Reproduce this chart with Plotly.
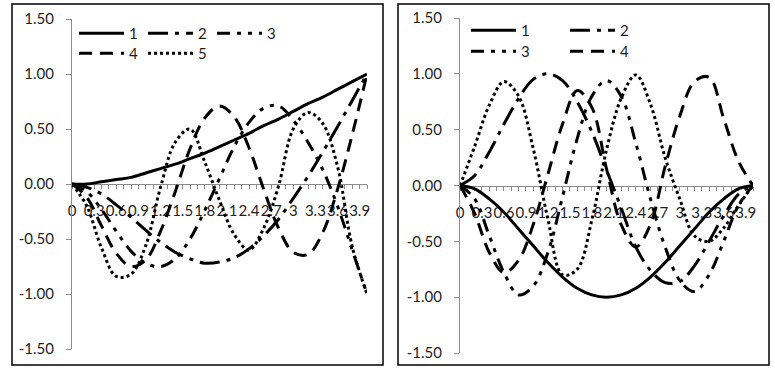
import plotly.graph_objects as go

# x positions (beam length 0..4), tick labels every 0.3
X = [0, 0.2, 0.4, 0.6, 0.8, 1.0, 1.2, 1.4, 1.6, 1.8, 2.0,
     2.2, 2.4, 2.6, 2.8, 3.0, 3.2, 3.4, 3.6, 3.8, 4.0]
X_TICKS = [0, 0.3, 0.6, 0.9, 1.2, 1.5, 1.8, 2.1, 2.4, 2.7, 3.0, 3.3, 3.6, 3.9]
X_TICK_LABELS = ["0", "0.3", "0.6", "0.9", "1.2", "1.5", "1.8", "2.1", "2.4",
                 "2.7", "3", "3.3", "3.6", "3.9"]
Y_TICKS = [-1.5, -1.0, -0.5, 0.0, 0.5, 1.0, 1.5]
Y_TICK_LABELS = ["-1.50", "-1.00", "-0.50", "0.00", "0.50", "1.00", "1.50"]

# left panel
left_1 = [0, 0.00, 0.02, 0.04, 0.06, 0.10, 0.14, 0.18, 0.23, 0.28, 0.34,
          0.40, 0.46, 0.53, 0.59, 0.66, 0.73, 0.79, 0.86, 0.93, 1.00]
left_2 = [0, -0.03, -0.09, -0.19, -0.30, -0.42, -0.53, -0.62, -0.68, -0.72, -0.71,
          -0.67, -0.59, -0.47, -0.32, -0.13, 0.07, 0.29, 0.52, 0.76, 1.00]
left_3 = [0, -0.07, -0.23, -0.43, -0.61, -0.72, -0.75, -0.68, -0.50, -0.24, 0.05,
          0.34, 0.56, 0.69, 0.71, 0.58, 0.38, 0.13, -0.20, -0.60, -1.00]
left_4 = [0, -0.12, -0.38, -0.63, -0.75, -0.69, -0.43, -0.07, 0.32, 0.60, 0.71,
          0.61, 0.33, -0.05, -0.40, -0.62, -0.64, -0.44, -0.05, 0.45, 1.00]
left_5 = [0, -0.20, -0.58, -0.84, -0.82, -0.56, -0.03, 0.38, 0.50, 0.20, -0.15,
          -0.46, -0.60, -0.40, -0.02, 0.50, 0.65, 0.55, 0.16, -0.57, -1.00]

# right panel
right_1 = [0, -0.03, -0.12, -0.24, -0.39, -0.54, -0.69, -0.82, -0.92, -0.98, -1.00,
           -0.98, -0.92, -0.82, -0.69, -0.54, -0.39, -0.24, -0.12, -0.03, 0]
right_2 = [0, 0.09, 0.30, 0.55, 0.78, 0.95, 1.00, 0.94, 0.75, 0.48, 0.14,
           -0.20, -0.55, -0.76, -0.87, -0.86, -0.72, -0.50, -0.27, -0.08, 0]
right_3 = [0, -0.12, -0.45, -0.78, -0.98, -0.90, -0.60, -0.10, 0.42, 0.80, 0.94,
           0.80, 0.38, -0.12, -0.55, -0.85, -0.95, -0.80, -0.50, -0.18, 0]
right_4 = [0, -0.25, -0.60, -0.78, -0.67, -0.35, 0.10, 0.55, 0.85, 0.70, 0.15,
           -0.35, -0.55, -0.35, 0.17, 0.62, 0.93, 0.97, 0.60, 0.22, 0]
right_5 = [0, 0.35, 0.72, 0.93, 0.80, 0.33, -0.30, -0.80, -0.75, -0.31, 0.32,
           0.78, 0.99, 0.73, 0.25, -0.12, -0.45, -0.50, -0.38, -0.18, 0]

DASHES = ["solid", "20px,7px,4px,7px", "13px,7px,4px,7px,4px,7px", "13px,8px", "3px,3px"]
FONT = dict(family="Lato", size=15, color="#1e1e1e")

fig = go.Figure()

left = [left_1, left_2, left_3, left_4, left_5]
left_legends = ["legend", "legend", "legend", "legend2", "legend2"]
for i, ys in enumerate(left):
    fig.add_trace(go.Scatter(
        x=X, y=ys, name=str(i + 1), mode="lines",
        line=dict(color="black", width=3, dash=DASHES[i], shape="spline"),
        xaxis="x", yaxis="y", legend=left_legends[i],
    ))

right = [right_1, right_2, right_3, right_4, right_5]
right_legends = ["legend3", "legend3", "legend4", "legend4", None]
for i, ys in enumerate(right):
    fig.add_trace(go.Scatter(
        x=X, y=ys, name=str(i + 1), mode="lines",
        line=dict(color="black", width=3, dash=DASHES[i], shape="spline"),
        xaxis="x2", yaxis="y2",
        legend=right_legends[i] or "legend3",
        showlegend=right_legends[i] is not None,
    ))


def xaxis(domain, pos):
    return dict(
        domain=domain, range=[0, 4], anchor="free", position=pos, automargin=False,
        showline=True, linecolor="#8c8c8c", linewidth=1,
        tickmode="array", tickvals=X_TICKS, ticktext=X_TICK_LABELS,
        ticks="outside", ticklen=4, tickcolor="#8c8c8c", tickangle=0,
        minor=dict(dtick=0.1, tick0=0, ticks="outside", ticklen=4, tickcolor="#8c8c8c"),
        showgrid=False, zeroline=False, layer="below traces",
        tickfont=FONT, ticklabelstandoff=9,
    )


def yaxis(domain, anchor):
    return dict(
        domain=domain, range=[-1.5, 1.5], anchor=anchor, automargin=False,
        showline=True, linecolor="#8c8c8c", linewidth=1,
        tickmode="array", tickvals=Y_TICKS, ticktext=Y_TICK_LABELS,
        ticks="outside", ticklen=5, tickcolor="#8c8c8c",
        showgrid=False, zeroline=False, tickfont=FONT, ticklabelstandoff=9,
    )


def legend(x, y, w):
    return dict(orientation="h", x=x, y=y, xanchor="left", yanchor="top",
                entrywidth=w, entrywidthmode="pixels", itemwidth=45,
                bgcolor="rgba(0,0,0,0)", font=FONT, traceorder="normal")


W, H = 775, 371
ly = [(H - 349) / H, (H - 19) / H]
ry = [(H - 353) / H, (H - 18) / H]

fig.update_layout(
    template="none",
    width=W, height=H, margin=dict(l=0, r=0, t=0, b=0, pad=0),
    paper_bgcolor="white", plot_bgcolor="white", font=FONT, showlegend=True,
    xaxis=xaxis([72 / W, 367 / W], sum(ly) / 2),
    yaxis=yaxis(ly, "x"),
    xaxis2=xaxis([460 / W, 753 / W], sum(ry) / 2),
    yaxis2=yaxis(ry, "x2"),
    legend=legend(74 / W, 1 - 17 / H, 9),
    legend2=legend(74 / W, 1 - 37 / H, 9),
    legend3=legend(466 / W, 1 - 14 / H, 39),
    legend4=legend(466 / W, 1 - 35 / H, 39),
    shapes=[
        dict(type="rect", xref="paper", yref="paper",
             x0=12 / W, x1=383 / W, y0=(H - 365) / H, y1=(H - 4) / H,
             line=dict(color="black", width=1.5)),
        dict(type="rect", xref="paper", yref="paper",
             x0=398 / W, x1=769 / W, y0=(H - 365) / H, y1=(H - 4) / H,
             line=dict(color="black", width=1.5)),
    ],
)

# the page body has a default 8px margin; remove it so the figure fills the window
fig.write_html("out.html", config={"displayModeBar": False},
               post_script="document.body.style.margin='0';")
